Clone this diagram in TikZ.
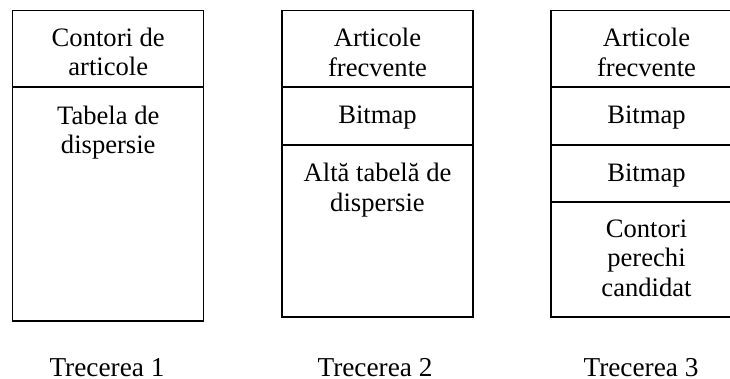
\documentclass[tikz,border=0pt]{standalone}
\usepackage{fontspec}
\setmainfont{Liberation Serif}
\begin{document}
\begin{tikzpicture}[x=1pt,y=-1pt,
  cell/.style={draw=black, line width=1.5pt, rectangle, inner sep=0pt, outer sep=0pt,
    minimum width=191pt, anchor=north west},
  celltext/.style={align=center, anchor=base, inner sep=0pt,
    font=\fontsize{26.6}{29.6}\selectfont},
  passlabel/.style={anchor=base, inner sep=0pt, text depth=0pt, font=\fontsize{27.3}{30}\selectfont}]
\useasboundingbox (0,0) rectangle (730,379);
\begin{scope}
\clip (0,0) rectangle (730,379);
% Trecerea 1
\node[cell, minimum height=76.5pt] (c11) at (12.5,10.5) {};
\node[cell, minimum height=234pt] (c12) at (12.5,87) {};
% Trecerea 2
\node[cell, minimum height=76.5pt] (c21) at (282,10.5) {};
\node[cell, minimum height=58pt] (c22) at (282,87) {};
\node[cell, minimum height=172pt] (c23) at (282,145) {};
% Trecerea 3
\node[cell, minimum height=76.5pt] (c31) at (551,10.5) {};
\node[cell, minimum height=58pt] (c32) at (551,87) {};
\node[cell, minimum height=57pt] (c33) at (551,145) {};
\node[cell, minimum height=115pt] (c34) at (551,202) {};
\end{scope}
% texts (anchor base = baseline of the last line)
\node[celltext] (t11) at (108.25,75.8) {Contori de\\articole};
\node[celltext] (t12) at (108.25,154) {Tabela de\\dispersie};
\node[celltext] (t21) at (377.5,76.3) {Articole\\frecvente};
\node[celltext] (t22) at (377.5,124) {Bitmap};
\node[celltext] (t23) at (377.5,211.3) {Altă tabelă de\\dispersie};
\node[celltext] (t31) at (646.5,76.3) {Articole\\frecvente};
\node[celltext] (t32) at (646.5,124) {Bitmap};
\node[celltext] (t33) at (646.5,181.7) {Bitmap};
\node[celltext] (t34) at (646.5,296.5) {Contori\\perechi\\candidat};
% labels
\node[passlabel] (p1) at (107,376) {Trecerea 1};
\node[passlabel] (p2) at (375,376) {Trecerea 2};
\node[passlabel] (p3) at (641,376) {Trecerea 3};
\end{tikzpicture}
\end{document}
